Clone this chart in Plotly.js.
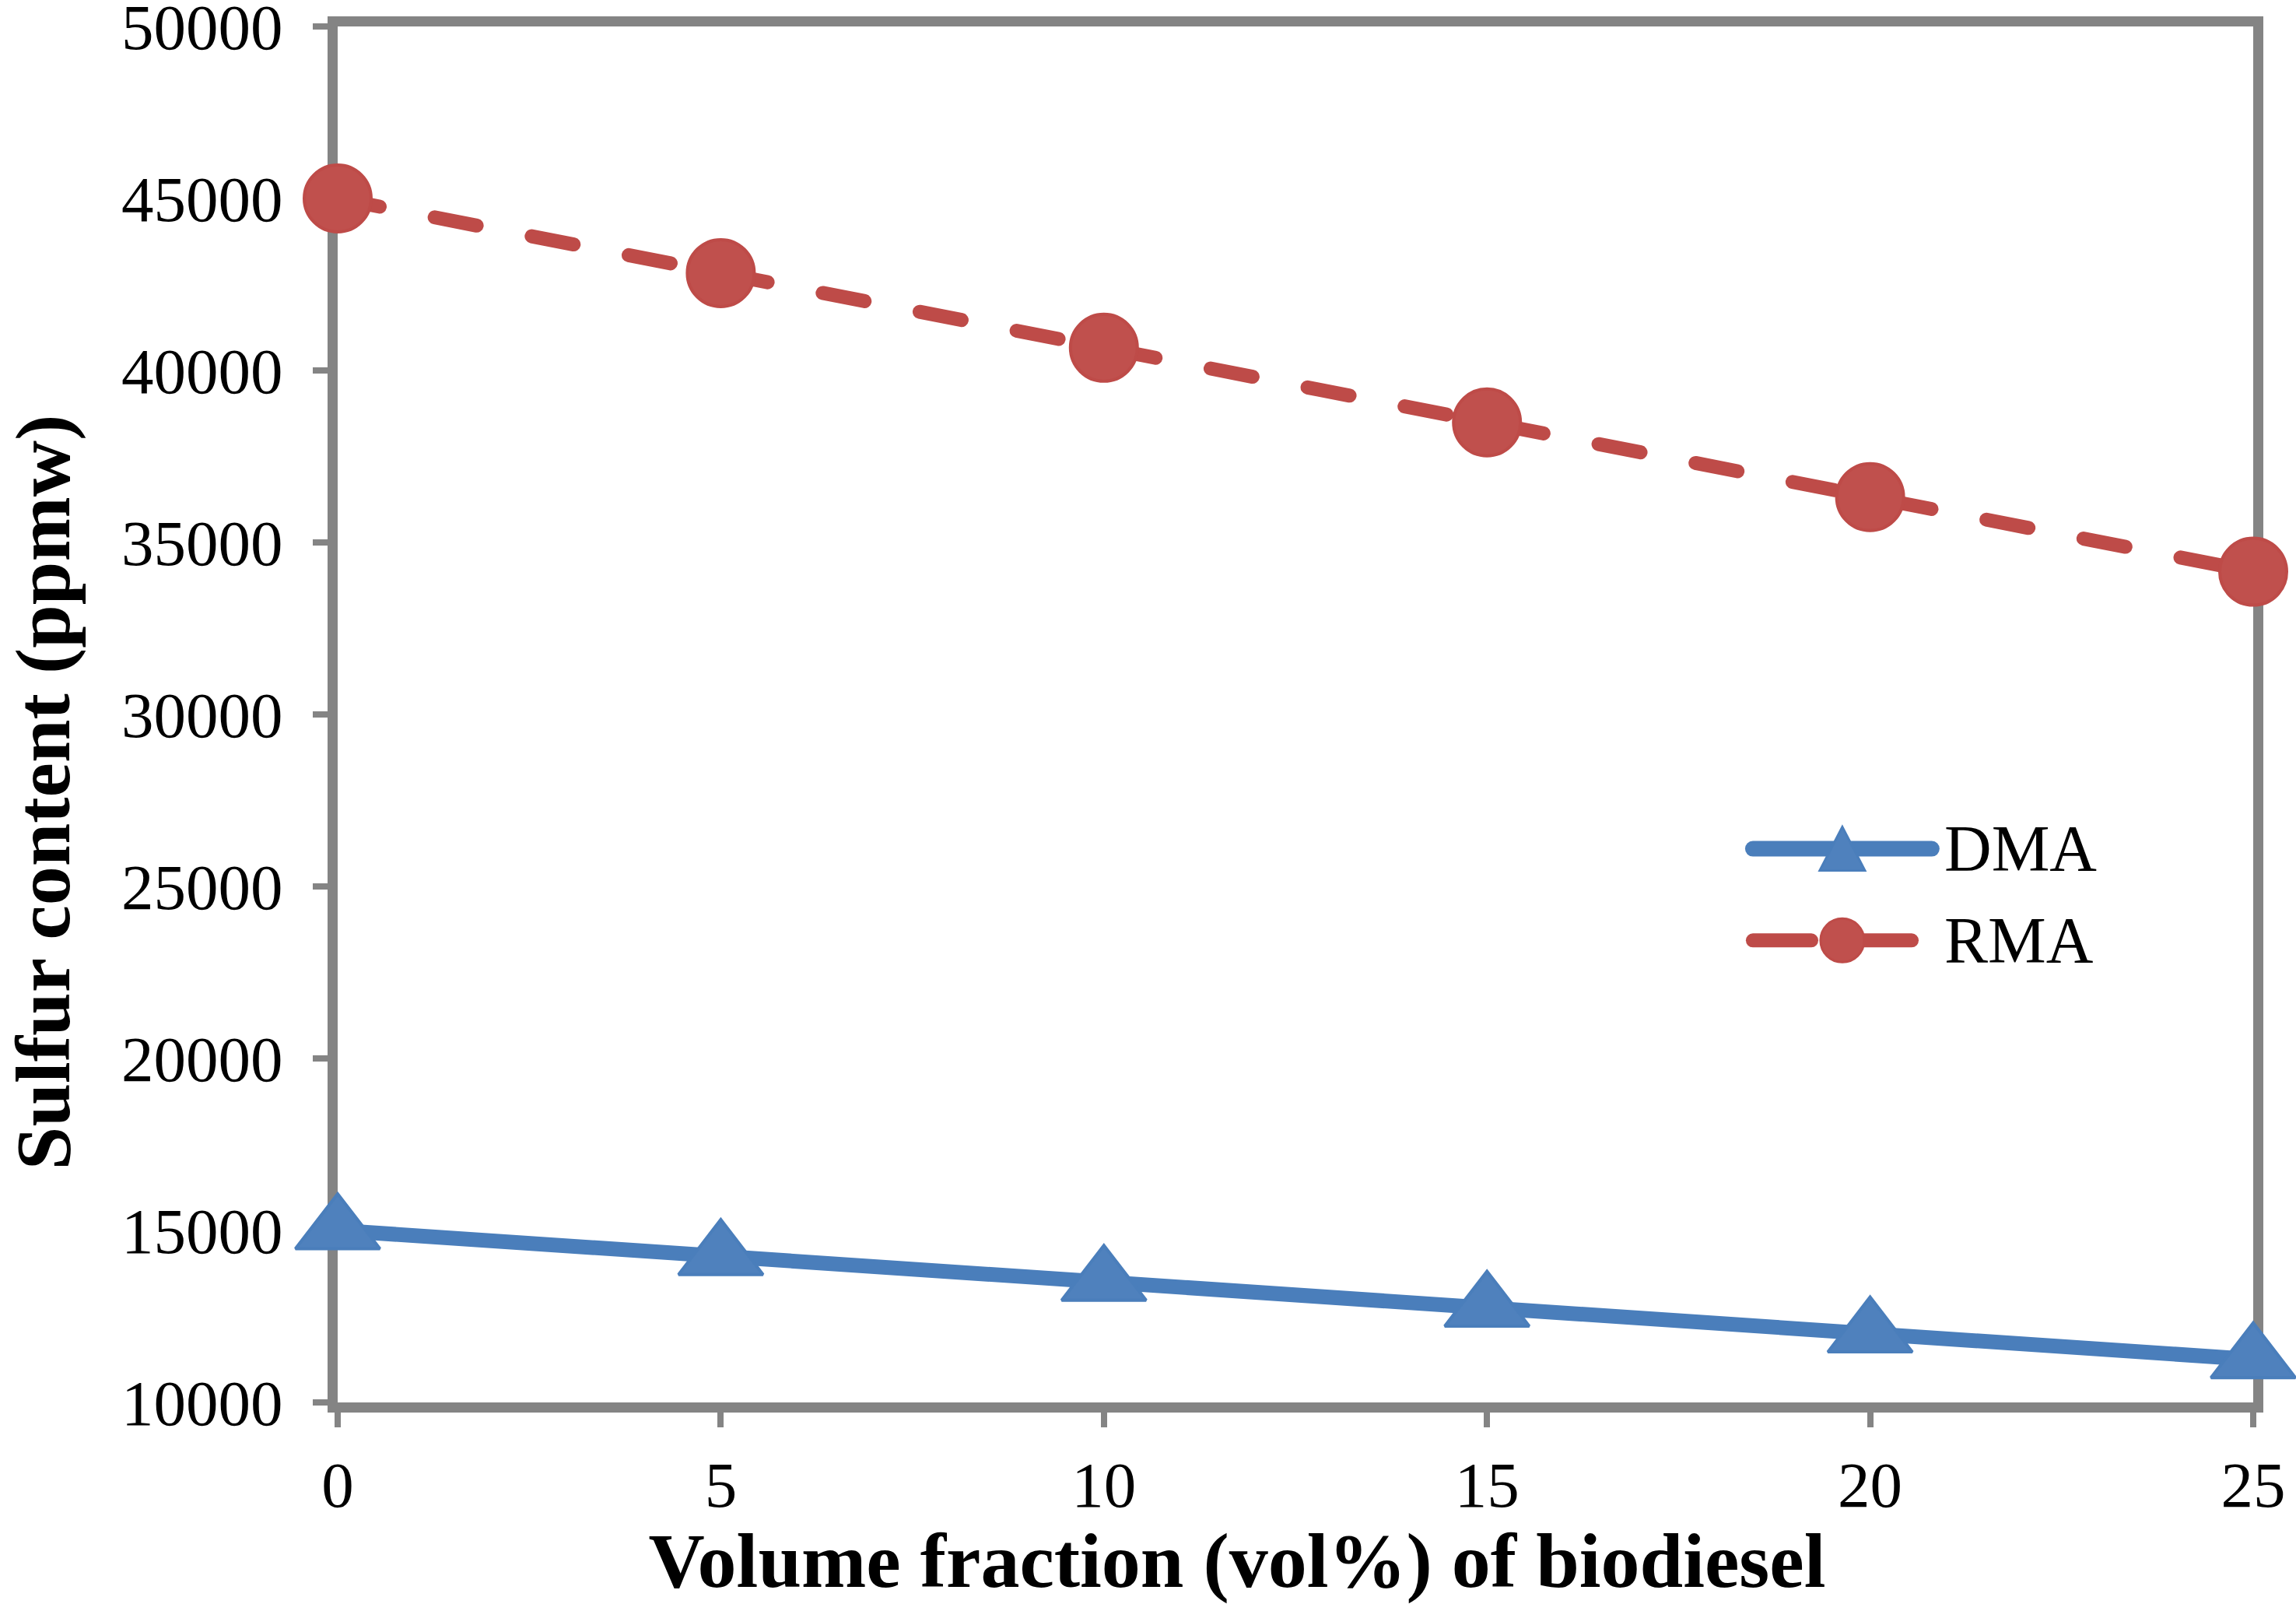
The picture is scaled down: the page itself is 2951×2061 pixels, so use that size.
<!DOCTYPE html>
<html>
<head>
<meta charset="utf-8">
<script src="https://cdn.plot.ly/plotly-3.0.1.min.js"></script>
<style>
html,body{margin:0;padding:0;background:#fff;}
#chart{width:2951px;height:2061px;}
#chart .scatterlayer .js-line{stroke-linecap:round;}
#chart .shapelayer path{stroke-linecap:round;}
</style>
</head>
<body>
<div id="chart"></div>
<script>
const volumeFraction = [0, 5, 10, 15, 20, 25];
const dmaSulfur = [15000, 14250, 13500, 12750, 12000, 11250];
const rmaSulfur = [45000, 42830, 40660, 38490, 36320, 34150];
const xTickVals = [0, 5, 10, 15, 20, 25];
const yTickVals = [10000, 15000, 20000, 25000, 30000, 35000, 40000, 45000, 50000];
const seriesNames = ['DMA', 'RMA'];

const axisColor = '#848484';
const blueFill = '#4F81BD', blueLine = '#4A7EBB';
const redFill = '#C0504D', redLine = '#BE4B48';

const traces = [
  {
    x: volumeFraction, y: dmaSulfur, name: seriesNames[0], type: 'scatter', mode: 'lines+markers',
    line: {color: blueLine, width: 19},
    marker: {symbol: 'triangle-up', size: 94, color: blueFill, line: {color: blueLine, width: 4}},
    cliponaxis: false, showlegend: false
  },
  {
    x: volumeFraction, y: rmaSulfur, name: seriesNames[1], type: 'scatter', mode: 'lines+markers',
    line: {color: redLine, width: 18, dash: '55px,72px'},
    marker: {symbol: 'circle', size: 86, color: redFill, line: {color: redLine, width: 4}},
    cliponaxis: false, showlegend: false
  }
];

// legend drawn as layout decoration (paper coordinates)
const legX0 = 0.7388, legX1 = 0.8322, legSym = 0.7855, legText = 0.838;
const legY = [0.4024, 0.3358];
const shapes = [
  {type: 'line', xref: 'paper', yref: 'paper', x0: legX0, x1: legX1, y0: legY[0], y1: legY[0],
   line: {color: blueLine, width: 20}},
  {type: 'path', xref: 'paper', yref: 'paper', xsizemode: 'pixel', ysizemode: 'pixel',
   xanchor: legSym, yanchor: legY[0], path: 'M-29,-28 L29,-28 L0,28 Z',
   fillcolor: blueFill, line: {color: blueLine, width: 3}},
  {type: 'line', xref: 'paper', yref: 'paper', x0: legX0, x1: 0.7693, y0: legY[1], y1: legY[1],
   line: {color: redLine, width: 18}},
  {type: 'line', xref: 'paper', yref: 'paper', x0: 0.7933, x1: 0.8217, y0: legY[1], y1: legY[1],
   line: {color: redLine, width: 18}},
  {type: 'circle', xref: 'paper', yref: 'paper', xsizemode: 'pixel', ysizemode: 'pixel',
   xanchor: legSym, yanchor: legY[1], x0: -28, x1: 28, y0: -28, y1: 28,
   fillcolor: redFill, line: {color: redLine, width: 3}}
];
const annotations = seriesNames.map((n, i) => ({
  text: n, xref: 'paper', yref: 'paper', x: legText, y: legY[i], xanchor: 'left', yanchor: 'middle',
  showarrow: false, font: {size: 84, color: '#000000'}
}));

const layout = {
  width: 2951, height: 2061,
  margin: {l: 434, r: 55, t: 34, b: 259},
  paper_bgcolor: '#ffffff', plot_bgcolor: '#ffffff',
  font: {family: '"Liberation Serif", "Times New Roman", serif', color: '#000000', size: 83},
  showlegend: false,
  shapes: shapes,
  annotations: annotations,
  xaxis: {
    range: [0, 25], tickvals: xTickVals, ticktext: xTickVals.map(String),
    showline: true, mirror: true, linecolor: axisColor, linewidth: 13,
    ticks: 'outside', ticklen: 19, tickwidth: 8, tickcolor: axisColor,
    showgrid: false, zeroline: false, layer: 'below traces',
    tickfont: {size: 83}, ticklabelstandoff: 2, ticklabeloverflow: 'allow',
    title: {text: '<b>Volume fraction (vol%) of biodiesel&nbsp;&nbsp;&nbsp;&nbsp;&nbsp;&nbsp;</b>', font: {size: 100}, standoff: 16}
  },
  yaxis: {
    range: [10000, 50000], tickvals: yTickVals, ticktext: yTickVals.map(String),
    showline: true, mirror: true, linecolor: axisColor, linewidth: 13,
    ticks: 'outside', ticklen: 19, tickwidth: 8, tickcolor: axisColor,
    showgrid: false, zeroline: false, layer: 'below traces',
    tickfont: {size: 83}, ticklabelstandoff: 22, ticklabeloverflow: 'allow',
    title: {text: '<b>Sulfur content (ppmw)&nbsp;&nbsp;&nbsp;&nbsp;&nbsp;&nbsp;&nbsp;&nbsp;</b>', font: {size: 100}, standoff: 48}
  }
};

Plotly.newPlot('chart', traces, layout, {displayModeBar: false, staticPlot: true});
</script>
</body>
</html>
